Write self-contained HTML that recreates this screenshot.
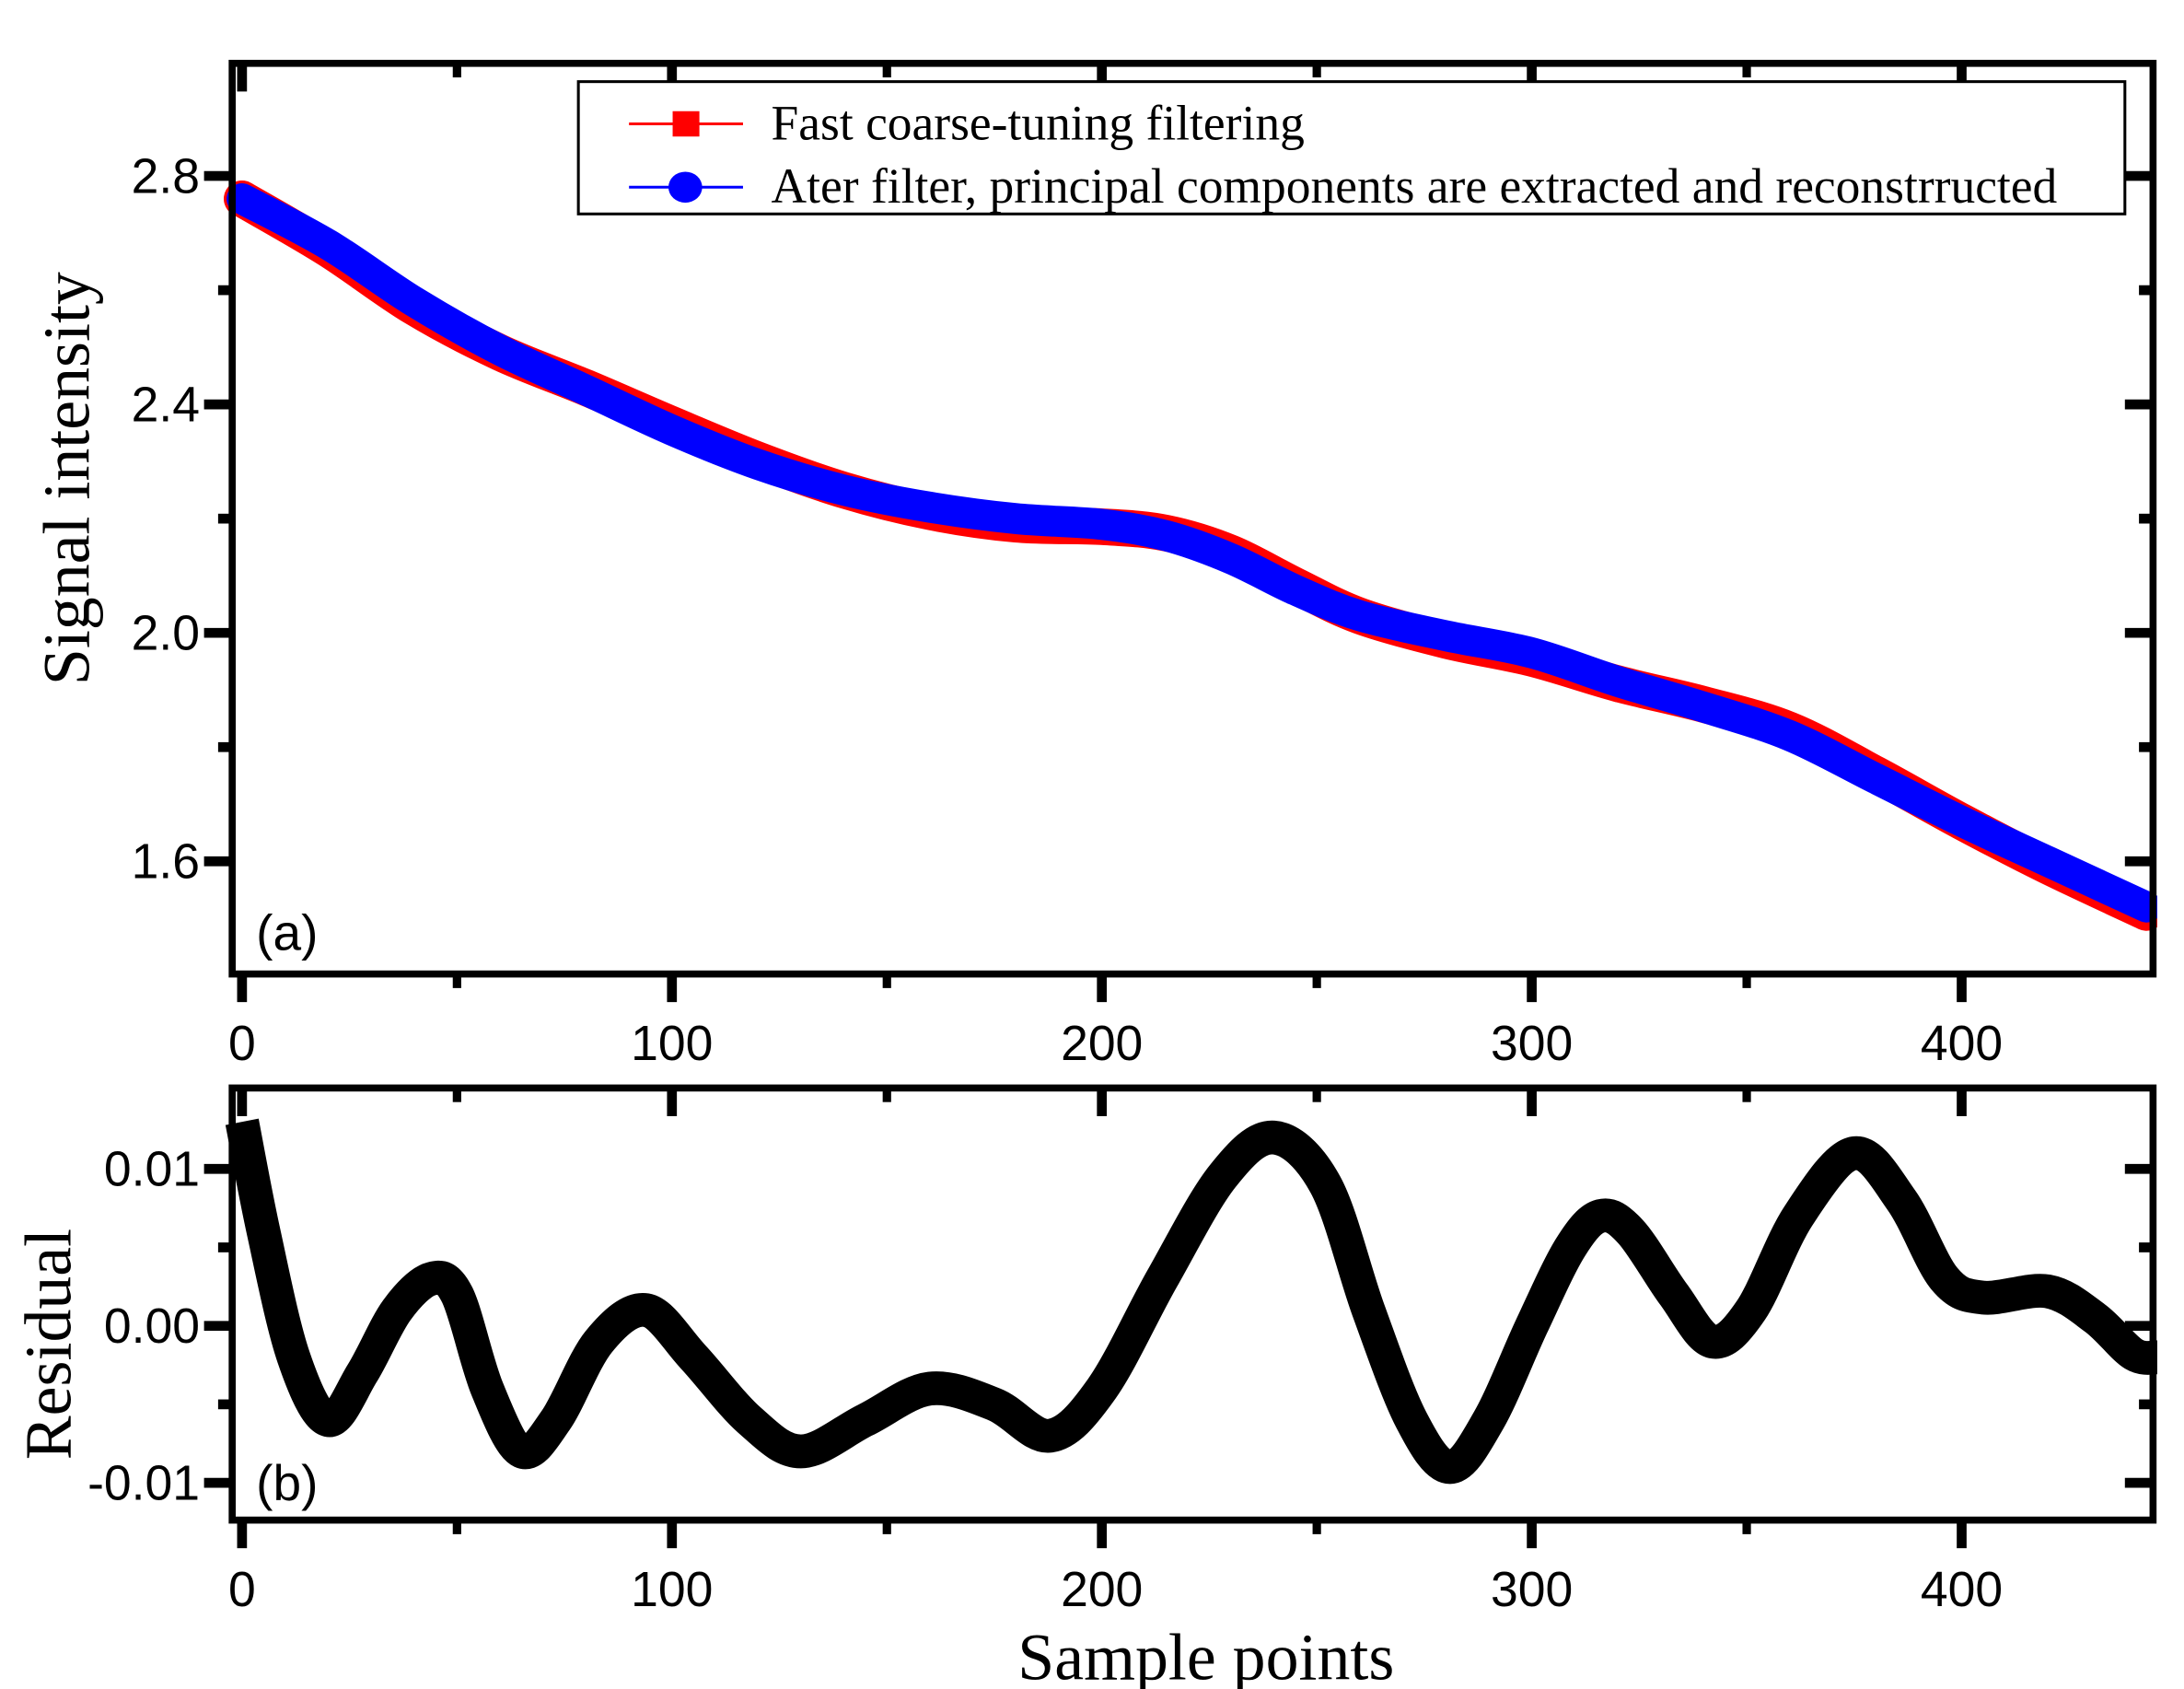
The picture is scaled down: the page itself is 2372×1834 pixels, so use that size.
<!DOCTYPE html>
<html><head><meta charset="utf-8"><style>
html,body{margin:0;padding:0;background:#fff;}
svg{display:block;}
.tl{font-family:"Liberation Sans",Arial,sans-serif;font-size:35px;fill:#000;}
.at{font-family:"Liberation Serif",serif;font-size:47px;fill:#000;}
.lg{font-family:"Liberation Serif",serif;font-size:35px;fill:#000;}
</style></head><body>
<svg id="s" width="2372" height="1834" viewBox="0 0 1552 1200" preserveAspectRatio="none" xmlns="http://www.w3.org/2000/svg">
<g id="g"></g>
<rect x="411" y="58" width="1099" height="94" fill="#fff" stroke="#000" stroke-width="2"/>
<line x1="447" y1="88" x2="528" y2="88" stroke="red" stroke-width="2"/>
<rect x="478" y="79" width="19" height="18" fill="red"/>
<text class="lg" x="548" y="99">Fast coarse-tuning filtering</text>
<line x1="447" y1="133" x2="528" y2="133" stroke="blue" stroke-width="2"/>
<ellipse cx="487" cy="133" rx="12" ry="11" fill="blue"/>
<text class="lg" x="548" y="144">Ater filter, principal components are extracted and reconstrructed</text>
<text class="tl" x="182" y="675" style="font-size:36px">(a)</text>
<text class="tl" x="182" y="1066" style="font-size:36px">(b)</text>
<text class="at" x="857" y="1193" text-anchor="middle">Sample points</text>
<text class="at" transform="translate(63,340) rotate(-90)" text-anchor="middle">Signal intensity</text>
<text class="at" transform="translate(50,955) rotate(-90)" text-anchor="middle">Residual</text>
</svg>
<script>
(function(){
var g=document.getElementById('g'),NS='http://www.w3.org/2000/svg';
function el(t,a){var e=document.createElementNS(NS,t);for(var k in a)e.setAttribute(k,a[k]);g.appendChild(e);return e;}
function X(v){return 172+v*3.055;}
function cr(pts){var d='M'+pts[0][0]+','+pts[0][1];for(var i=0;i<pts.length-1;i++){var p0=pts[i-1]||pts[i],p1=pts[i],p2=pts[i+1],p3=pts[i+2]||p2;
d+=' C'+(p1[0]+(p2[0]-p0[0])/6)+','+(p1[1]+(p2[1]-p0[1])/6)+' '+(p2[0]-(p3[0]-p1[0])/6)+','+(p2[1]-(p3[1]-p1[1])/6)+' '+p2[0]+','+p2[1];}return d;}
var T=45,B=692,L=165,R=1530;
function Y1(v){return 125+(2.8-v)*405.8;}
var sig=[[0,2.76],[20,2.68],[40,2.58],[60,2.495],[80,2.425],[100,2.355],[120,2.295],[140,2.25],[160,2.22],[180,2.2],[200,2.19],[215,2.17],[230,2.13],[245,2.075],[260,2.03],[280,1.995],[300,1.965],[320,1.915],[340,1.87],[360,1.82],[380,1.745],[400,1.67],[420,1.6],[443,1.52]];
var ptsB=sig.map(function(p){return [X(p[0]),Y1(p[1])];});
var ptsR=sig.map(function(p,i){return [X(p[0]),Y1(p[1]-0.01*Math.sin(i*0.9))];});
el('path',{d:cr(ptsR),fill:'none',stroke:'red','stroke-width':26,'stroke-linecap':'round'});
el('path',{d:cr(ptsB),fill:'none',stroke:'blue','stroke-width':22,'stroke-linecap':'round'});
var T2=773,B2=1080;
function Y2(v){return 942-v*11150;}
var res=[[0,0.013],[5,0.006],[12,-0.002],[20,-0.006],[28,-0.003],[36,0.001],[44,0.003],[50,0.002],[57,-0.004],[65,-0.008],[73,-0.006],[83,-0.001],[94,0.001],[105,-0.002],[118,-0.006],[130,-0.008],[145,-0.006],[160,-0.004],[175,-0.005],[188,-0.007],[200,-0.004],[214,0.003],[228,0.0095],[240,0.012],[252,0.009],[262,0.001],[272,-0.006],[281,-0.009],[290,-0.006],[300,0.0],[309,0.005],[316,0.007],[323,0.006],[333,0.002],[342,-0.001],[351,0.001],[362,0.007],[375,0.011],[386,0.008],[396,0.003],[405,0.0018],[420,0.0022],[431,0.0005],[440,-0.0018],[446,-0.002]];
el('path',{d:cr(res.map(function(p){return [X(p[0]),Y2(p[1])];})),fill:'none',stroke:'#000','stroke-width':24,'stroke-linejoin':'round'});
el('rect',{x:L+3,y:0,width:1400,height:T,fill:'#fff'});
el('rect',{x:R+3,y:0,width:40,height:1200,fill:'#fff'});
[[T,B],[T2,B2]].forEach(function(tb){
 el('rect',{x:L,y:tb[0],width:R-L,height:tb[1]-tb[0],fill:'none',stroke:'#000','stroke-width':5});
 for(var v=0;v<=400;v+=50){var x=X(v),maj=v%100==0;
  el('line',{x1:x,y1:tb[1],x2:x,y2:tb[1]+(maj?20:10),stroke:'#000','stroke-width':maj?7:6});
  el('line',{x1:x,y1:tb[0],x2:x,y2:tb[0]+(maj?20:10),stroke:'#000','stroke-width':maj?7:6});
  if(maj){var t=el('text',{x:x,y:tb[1]+61,'class':'tl','text-anchor':'middle'});t.textContent=v;}
 }
});
[[2.8,1],[2.6,0],[2.4,1],[2.2,0],[2.0,1],[1.8,0],[1.6,1]].forEach(function(a){var y=Y1(a[0]);
 el('line',{x1:L,y1:y,x2:L-(a[1]?20:10),y2:y,stroke:'#000','stroke-width':7});
 el('line',{x1:R,y1:y,x2:R-(a[1]?20:10),y2:y,stroke:'#000','stroke-width':7});
 if(a[1]){var t=el('text',{x:142,y:y+12,'class':'tl','text-anchor':'end'});t.textContent=a[0].toFixed(1);}});
[[0.01,1,'0.01'],[0.005,0],[0,1,'0.00'],[-0.005,0],[-0.01,1,'-0.01']].forEach(function(a){var y=Y2(a[0]);
 el('line',{x1:L,y1:y,x2:L-(a[1]?20:10),y2:y,stroke:'#000','stroke-width':7});
 el('line',{x1:R,y1:y,x2:R-(a[1]?20:10),y2:y,stroke:'#000','stroke-width':7});
 if(a[1]){var t=el('text',{x:142,y:y+12,'class':'tl','text-anchor':'end'});t.textContent=a[2];}});
})();
</script>
</body></html>
